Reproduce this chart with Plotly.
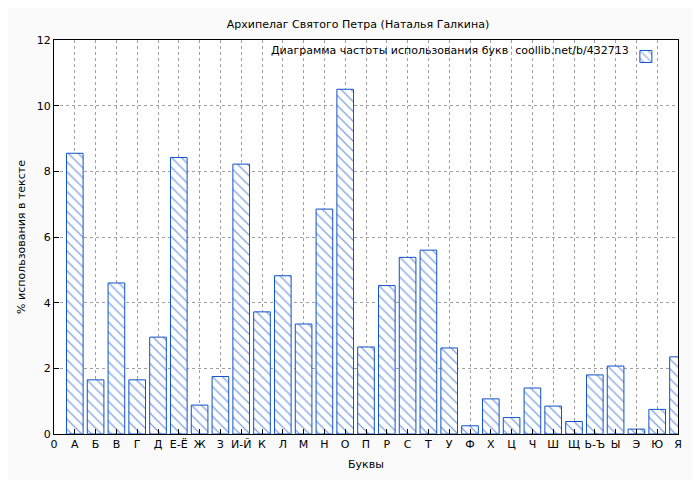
import plotly.graph_objects as go

letters = ["А", "Б", "В", "Г", "Д", "Е-Ё", "Ж", "З", "И-Й", "К", "Л", "М", "Н", "О", "П",
           "Р", "С", "Т", "У", "Ф", "Х", "Ц", "Ч", "Ш", "Щ", "Ь-Ъ", "Ы", "Э", "Ю", "Я"]
freq = [8.55, 1.65, 4.6, 1.65, 2.95, 8.42, 0.88, 1.75, 8.22, 3.72, 4.82, 3.35, 6.85, 10.5, 2.65,
        4.52, 5.38, 5.6, 2.62, 0.25, 1.07, 0.5, 1.4, 0.85, 0.38, 1.8, 2.07, 0.15, 0.75, 2.35]
xpos = list(range(1, len(letters) + 1))
tick_vals = [0] + xpos
tick_text = ["0"] + letters
legend_text = "Диаграмма частоты использования букв  coollib.net/b/432713"

fig = go.Figure()
fig.add_trace(go.Bar(
    x=xpos, y=freq, width=0.8, name=" ",
    marker=dict(color="white", line=dict(color="#1050c8", width=1),
                pattern=dict(shape="\\", fgcolor="#1050c8", size=7, solidity=0.2)),
))

axis_common = dict(showline=True, mirror=True, linecolor="black", linewidth=1,
                   ticks="inside", ticklen=5, tickcolor="black",
                   showgrid=True, gridcolor="#a0a0a0", griddash="dot", gridwidth=1,
                   zeroline=False, title_font=dict(size=11))

fig.update_layout(
    width=700, height=480,
    paper_bgcolor="#fafafa", plot_bgcolor="white",
    font=dict(family="DejaVu Sans", size=11, color="black"),
    title=dict(text="Архипелаг Святого Петра (Наталья Галкина)", x=0.5, y=0.975,
               xanchor="center", font=dict(size=11)),
    margin=dict(l=46, r=30, t=32, b=54),
    xaxis=dict(range=[0, 30], tickmode="array", tickvals=tick_vals, ticktext=tick_text,
               title=dict(text="Буквы", standoff=10), **axis_common),
    yaxis=dict(range=[0, 12], dtick=2, title=dict(text="% использования в тексте", standoff=8),
               **axis_common),
    showlegend=True,
    legend=dict(x=0.995, y=0.995, xanchor="right", yanchor="top", bgcolor="rgba(0,0,0,0)",
                font=dict(size=11), itemwidth=30),
    annotations=[dict(text=legend_text, x=0.925, y=0.995, xref="paper", yref="paper",
                      xanchor="right", yanchor="top", showarrow=False, font=dict(size=11))],
)

fig.write_html("out.html")
